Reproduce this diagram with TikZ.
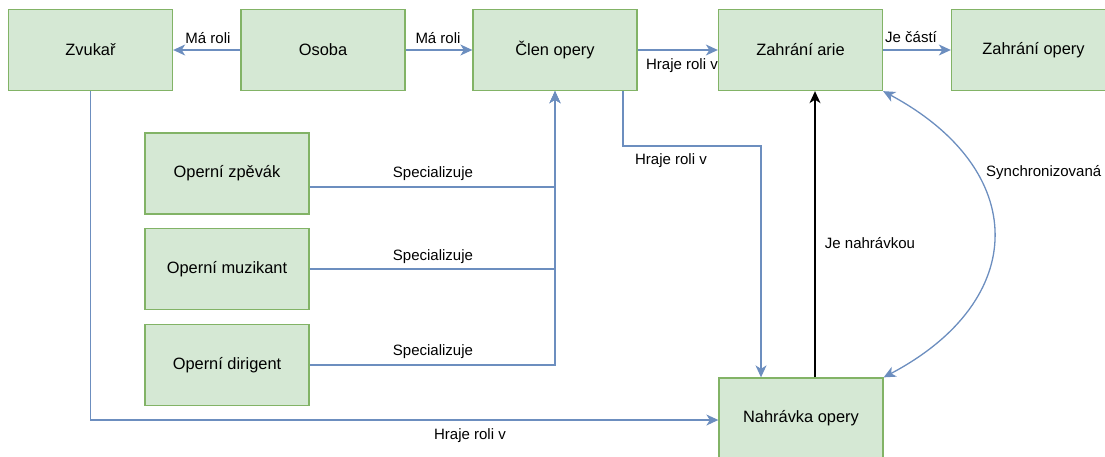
\documentclass[tikz,border=0pt]{standalone}
\usepackage{fontspec}
\setmainfont{Liberation Sans}
\usetikzlibrary{arrows.meta,calc}
\definecolor{boxfill}{HTML}{D5E8D4}
\definecolor{boxline}{HTML}{82B366}
\definecolor{linkblue}{HTML}{6C8EBF}
\begin{document}
\begin{tikzpicture}[x=1pt,y=-1pt,
  entity/.style={draw=boxline,fill=boxfill,line width=1.3pt,minimum width=164pt,minimum height=81pt,
    inner sep=0pt,font=\fontsize{16.4}{19}\selectfont},
  link/.style={draw=linkblue,line width=1.3pt,-{Stealth[length=12pt,width=11pt,inset=3.5pt]}},
  dlink/.style={draw=linkblue,line width=1.3pt,{Stealth[length=12pt,width=11pt,inset=3.5pt]}-{Stealth[length=12pt,width=11pt,inset=3.5pt]}},
  blink/.style={draw=black,line width=1.3pt,-{Stealth[length=12pt,width=11pt,inset=3.5pt]}},
  lbl/.style={font=\fontsize{15}{18}\selectfont,inner sep=0pt}]
\useasboundingbox (0,0) rectangle (1105,456);
\clip (0,0) rectangle (1105,456);

% entities
\node[entity] (zvukar)   at (90.5,50)   {Zvukař};
\node[entity] (osoba)    at (323,50)    {Osoba};
\node[entity] (clen)     at (555,50)    {Člen opery};
\node[entity] (arie)     at (800.5,50)  {Zahrání arie};
\node[entity] (zopery)   at (1033.5,50) {Zahrání opery};
\node[entity] (zpevak)   at (227,173.5) {Operní zpěvák};
\node[entity] (muzikant) at (227,269)   {Operní muzikant};
\node[entity] (dirigent) at (227,365)   {Operní dirigent};
\node[entity] (nahravka) at (801,418.5) {Nahrávka opery};

% top row relations
\draw[link] (osoba.west) -- (zvukar.east);
\draw[link] (osoba.east) -- (clen.west);
\draw[link] (clen.east) -- (arie.west);
\draw[link] (arie.east) -- (zopery.west);
\node[lbl] (l1) at (208,38) {Má roli};
\node[lbl] (l2) at (438,38) {Má roli};
\node[lbl] (l3) at (682,66) {Hraje roli v};
\node[lbl] (l4) at (911,37) {Je částí};

% specialisations
\coordinate (s1) at ($(zpevak.east)+(0,13.5)$);
\draw[link] (s1) -| (clen.south);
\draw[link] (muzikant.east) -| (clen.south);
\draw[link] (dirigent.east) -| (clen.south);
\node[lbl] (sp1) at (433,174) {Specializuje};
\node[lbl] (sp2) at (433,257) {Specializuje};
\node[lbl] (sp3) at (433,352) {Specializuje};

% member plays role in recording
\coordinate (c1) at ($(clen.south)+(68,0)$);
\coordinate (c2) at ($(nahravka.north)+(-40,0)$);
\draw[link] (c1) -- (c1 |- 0,146) -- (c2 |- 0,146) -- (c2);
\node[lbl] (l5) at (671,161) {Hraje roli v};

% sound engineer plays role in recording
\draw[link] (zvukar.south) |- ($(nahravka.west)+(0,1.5)$);
\node[lbl] (l6) at (470,436) {Hraje roli v};

% recording of aria
\coordinate (n1) at ($(nahravka.north)+(14,0)$);
\draw[blink] (n1) -- (n1 |- arie.south);
\node[lbl] (l7) at (870,243) {Je nahrávkou};

% synchronisation
\draw[dlink] (arie.south east) .. controls (1030,170) and (1030,300) .. (nahravka.north east);
\node[lbl,anchor=west] (l8) at (986,173) {Synchronizovaná};
\end{tikzpicture}
\end{document}
